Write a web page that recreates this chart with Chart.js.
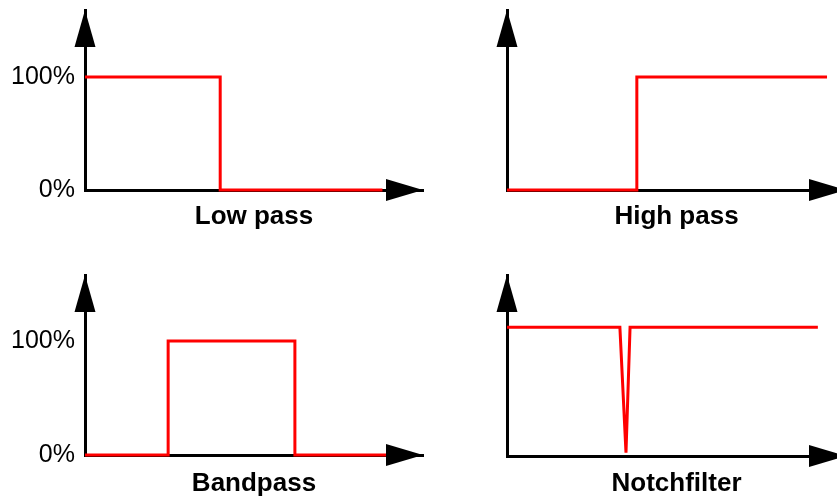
<!DOCTYPE html>
<html><head><meta charset="utf-8">
<script src="https://cdn.jsdelivr.net/npm/chart.js@4"></script>
<style>
html,body{margin:0;padding:0;background:#fff;overflow:hidden;width:837px;height:497px;position:relative;}
canvas{position:absolute;}
</style></head><body>
<canvas id="c0" width="425" height="250" style="left:0;top:0"></canvas>
<canvas id="c1" width="430" height="250" style="left:420px;top:0"></canvas>
<canvas id="c2" width="425" height="260" style="left:0;top:250px"></canvas>
<canvas id="c3" width="430" height="260" style="left:420px;top:250px"></canvas>
<script>
// ---- data ----
const panelTitles = ['Low pass', 'High pass', 'Bandpass', 'Notchfilter'];
const yTickValues = [0, 100];
const yTickLabels = ['0%', '100%'];
const lowPassX  = [0, 4, 4, 8.8];
const lowPassY  = [100, 100, 0, 0];
const highPassX = [0, 3.83, 3.83, 9.44];
const highPassY = [0, 0, 100, 100];
const bandPassX = [0, 2.46, 2.46, 6.21, 6.21, 9.17];
const bandPassY = [0, 0, 100, 100, 0, 0];
const notchX    = [0, 3.33, 3.51, 3.63, 9.17];
const notchY    = [113, 113, 3, 113, 113];

const seriesX = [lowPassX, highPassX, bandPassX, notchX];
const seriesY = [lowPassY, highPassY, bandPassY, notchY];

// ---- layout per panel ----
const layouts = [
  {canvas:'c0', yWidth:85, showYLabels:true,  padTop:10, padRight:2, xHeight:60, titlePad:18, yMax:159.3},
  {canvas:'c1', yWidth:87, showYLabels:false, padTop:10, padRight:4, xHeight:60, titlePad:18, yMax:159.3},
  {canvas:'c2', yWidth:85, showYLabels:true,  padTop:25, padRight:2, xHeight:55, titlePad:11, yMax:157.9},
  {canvas:'c3', yWidth:87, showYLabels:false, padTop:25, padRight:4, xHeight:54, titlePad:11, yMax:158.8}
];

Chart.defaults.font.family = '"Liberation Sans", Arial, Helvetica, sans-serif';
Chart.defaults.color = '#000';

const arrowPlugin = {
  id: 'axisArrows',
  afterDraw(chart) {
    const {ctx, chartArea: a} = chart;
    ctx.save();
    ctx.fillStyle = '#000';
    ctx.beginPath();
    ctx.moveTo(a.left, a.top);
    ctx.lineTo(a.left - 10.5, a.top + 37);
    ctx.lineTo(a.left + 10.5, a.top + 37);
    ctx.closePath();
    ctx.fill();
    ctx.beginPath();
    ctx.moveTo(a.right, a.bottom);
    ctx.lineTo(a.right - 37, a.bottom - 11);
    ctx.lineTo(a.right - 37, a.bottom + 11);
    ctx.closePath();
    ctx.fill();
    ctx.restore();
  }
};

layouts.forEach((L, i) => {
  const pts = seriesX[i].map((x, k) => ({x: x, y: seriesY[i][k]}));
  new Chart(document.getElementById(L.canvas), {
    type: 'line',
    data: {
      datasets: [{
        data: pts,
        borderColor: '#ff0000',
        borderWidth: 3,
        pointRadius: 0,
        tension: 0,
        fill: false,
        clip: 4,
        borderJoinStyle: 'miter',
        borderCapStyle: 'butt'
      }]
    },
    options: {
      responsive: false,
      animation: false,
      events: [],
      layout: {padding: {top: L.padTop, left: 0, right: L.padRight, bottom: 0}},
      plugins: {legend: {display: false}, tooltip: {enabled: false}},
      scales: {
        x: {
          type: 'linear', min: 0, max: 10,
          grid: {display: false, drawTicks: false},
          border: {display: true, color: '#000', width: 3},
          ticks: {display: false},
          title: {
            display: true, text: panelTitles[i], color: '#000',
            font: {size: 26, weight: 'bold'},
            padding: {top: 0, bottom: L.titlePad}
          },
          afterFit(s) { s.height = L.xHeight; s.paddingLeft = 0; s.paddingRight = 0; }
        },
        y: {
          type: 'linear', min: 0, max: L.yMax,
          grid: {display: false, drawTicks: false},
          border: {display: true, color: '#000', width: 3},
          afterBuildTicks(s) { s.ticks = yTickValues.map(v => ({value: v})); },
          ticks: {
            display: L.showYLabels,
            padding: 10,
            color: '#000',
            font: {size: 25},
            callback: (v) => yTickLabels[yTickValues.indexOf(v)]
          },
          afterFit(s) { s.width = L.yWidth; s.paddingTop = 0; s.paddingBottom = 0; }
        }
      }
    },
    plugins: [arrowPlugin]
  });
});
</script>
</body></html>
